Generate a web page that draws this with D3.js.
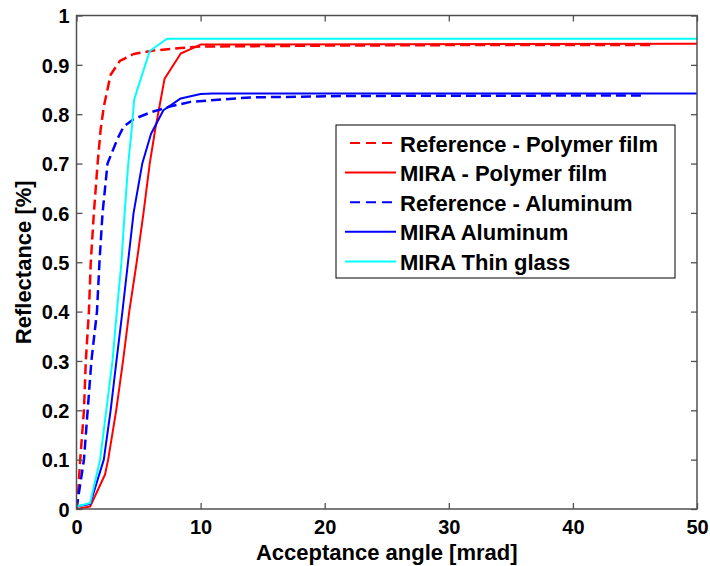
<!DOCTYPE html>
<html>
<head>
<meta charset="utf-8">
<script src="https://cdn.jsdelivr.net/npm/d3@7"></script>
<style>
  body { margin: 0; background: #fff; }
  svg text { font-family: "Liberation Sans", Arial, sans-serif; font-weight: bold; }
</style>
</head>
<body>
<div id="chart"></div>
<script>
// series names, in legend order
var seriesNames = ["Reference - Polymer film", "MIRA - Polymer film", "Reference - Aluminum", "MIRA Aluminum", "MIRA Thin glass"];

// [angle mrad, reflectance]
var refPolymer = [[0, 0], [0.15, 0.04], [0.3, 0.1], [0.6, 0.2], [0.75, 0.3], [1.0, 0.4], [1.15, 0.5], [1.4, 0.6], [1.7, 0.7],
    [1.95, 0.77], [2.2, 0.815], [2.75, 0.88], [3.5, 0.908], [4.6, 0.922], [6.2, 0.929], [8.4, 0.934], [10, 0.937],
    [15, 0.938], [20, 0.939], [30, 0.94], [46.5, 0.94]];
var miraPolymer = [[0, 0], [1.1, 0.005], [2.3, 0.07], [2.55, 0.1], [3.2, 0.2], [3.75, 0.3], [4.25, 0.4], [4.85, 0.5],
    [5.4, 0.6], [5.9, 0.7], [6.35, 0.77], [7.1, 0.872], [8.4, 0.923], [10, 0.941], [50, 0.943]];
var refAluminum = [[0, 0], [0.3, 0.05], [0.6, 0.1], [0.9, 0.2], [1.2, 0.3], [1.65, 0.4], [1.85, 0.5], [2.1, 0.6], [2.5, 0.7],
    [3.3, 0.75], [3.8, 0.775], [4.6, 0.79], [6.0, 0.804], [7.6, 0.816], [9.2, 0.825], [14, 0.834], [22, 0.837], [45.5, 0.838]];
var miraAluminum = [[0, 0.005], [1.1, 0.01], [2.2, 0.1], [2.75, 0.2], [3.22, 0.3], [3.7, 0.4], [4.15, 0.5], [4.6, 0.6],
    [5.3, 0.7], [6.0, 0.76], [7.0, 0.808], [8.4, 0.832], [10, 0.841], [11, 0.842], [50, 0.842]];
var miraGlass = [[0, 0.005], [1.1, 0.012], [1.9, 0.1], [2.4, 0.2], [2.9, 0.3], [3.25, 0.4], [3.62, 0.5], [3.88, 0.6],
    [4.17, 0.7], [4.45, 0.77], [4.65, 0.83], [5.9, 0.928], [7.3, 0.953], [50, 0.953]];

var xTicks = [0, 10, 20, 30, 40, 50];
var yTicks = [0, 0.1, 0.2, 0.3, 0.4, 0.5, 0.6, 0.7, 0.8, 0.9, 1];

var allSeries = [
    { name: seriesNames[0], values: refPolymer, color: "#ff0000", dash: "10,5", width: 2.5 },
    { name: seriesNames[1], values: miraPolymer, color: "#ff0000", dash: null, width: 2 },
    { name: seriesNames[2], values: refAluminum, color: "#0000ff", dash: "10,5", width: 2.5 },
    { name: seriesNames[3], values: miraAluminum, color: "#0000ff", dash: null, width: 2 },
    { name: seriesNames[4], values: miraGlass, color: "#00ffff", dash: null, width: 2 }
];

var margin = { top: 15.5, right: 13, bottom: 57, left: 76.5 };
var width = 710 - margin.left - margin.right,
    height = 566 - margin.top - margin.bottom;

var svg = d3.select("#chart").append("svg")
    .attr("width", 710)
    .attr("height", 566);

var g = svg.append("g")
    .attr("transform", "translate(" + margin.left + "," + margin.top + ")");

var x = d3.scaleLinear().domain([0, 50]).range([0, width]);
var y = d3.scaleLinear().domain([0, 1]).range([height, 0]);

g.append("clipPath").attr("id", "plotclip")
    .append("rect").attr("width", width).attr("height", height);

var line = d3.line()
    .x(function (d) { return x(d[0]); })
    .y(function (d) { return y(d[1]); });

g.append("g")
    .attr("clip-path", "url(#plotclip)")
    .selectAll("path")
    .data(allSeries)
    .enter()
    .append("path")
    .attr("d", function (d) { return line(d.values); })
    .attr("fill", "none")
    .attr("stroke", function (d) { return d.color; })
    .attr("stroke-width", function (d) { return d.width; })
    .attr("stroke-dasharray", function (d) { return d.dash; })
    .attr("stroke-linejoin", "round");

// axes, ticks inward on all four sides
var axisColor = "#505050";
function styleAxis(sel) {
    sel.select(".domain").remove();
    sel.selectAll(".tick line").attr("stroke", axisColor).attr("stroke-width", 1.3);
    sel.selectAll(".tick text").attr("fill", "#000").style("font-size", "20px");
}

var gx = g.append("g")
    .attr("transform", "translate(0," + height + ")")
    .call(d3.axisBottom(x).tickValues(xTicks).tickSizeInner(-6).tickSizeOuter(0).tickPadding(11).tickFormat(d3.format("d")));
styleAxis(gx);

var gy = g.append("g")
    .call(d3.axisLeft(y).tickValues(yTicks).tickSizeInner(-6).tickSizeOuter(0).tickPadding(7).tickFormat(function (d) { return d3.format("")(d); }));
styleAxis(gy);
gy.selectAll(".tick text").attr("dy", "0.36em");

var gxTop = g.append("g")
    .call(d3.axisTop(x).tickValues(xTicks).tickSizeInner(-6).tickSizeOuter(0).tickFormat(""));
styleAxis(gxTop);

var gyRight = g.append("g")
    .attr("transform", "translate(" + width + ",0)")
    .call(d3.axisRight(y).tickValues(yTicks).tickSizeInner(-6).tickSizeOuter(0).tickFormat(""));
styleAxis(gyRight);

g.append("rect")
    .attr("width", width)
    .attr("height", height)
    .attr("fill", "none")
    .attr("stroke", axisColor)
    .attr("stroke-width", 1.5);

// axis titles
svg.append("text")
    .attr("x", margin.left + width / 2)
    .attr("y", 560)
    .attr("text-anchor", "middle")
    .style("font-size", "22px")
    .text("Acceptance angle [mrad]");

svg.append("text")
    .attr("transform", "translate(31," + (margin.top + height / 2) + ") rotate(-90)")
    .attr("text-anchor", "middle")
    .style("font-size", "22px")
    .text("Reflectance [%]");

// legend
var legend = svg.append("g").attr("transform", "translate(336,125)");
legend.append("rect")
    .attr("width", 339)
    .attr("height", 153)
    .attr("fill", "#fff")
    .attr("stroke", "#000")
    .attr("stroke-width", 1);

var rows = legend.selectAll(".row")
    .data(allSeries)
    .enter()
    .append("g")
    .attr("class", "row")
    .attr("transform", function (d, i) { return "translate(0," + (18 + i * 29.6) + ")"; });

rows.append("line")
    .attr("x1", function (d) { return d.dash ? 14 : 9; })
    .attr("x2", 60)
    .attr("stroke", function (d) { return d.color; })
    .attr("stroke-width", 2)
    .attr("stroke-dasharray", function (d) { return d.dash ? "10,6" : null; });

rows.append("text")
    .attr("x", 64)
    .attr("y", 8.5)
    .style("font-size", "22px")
    .text(function (d) { return d.name; });
</script>
</body>
</html>
